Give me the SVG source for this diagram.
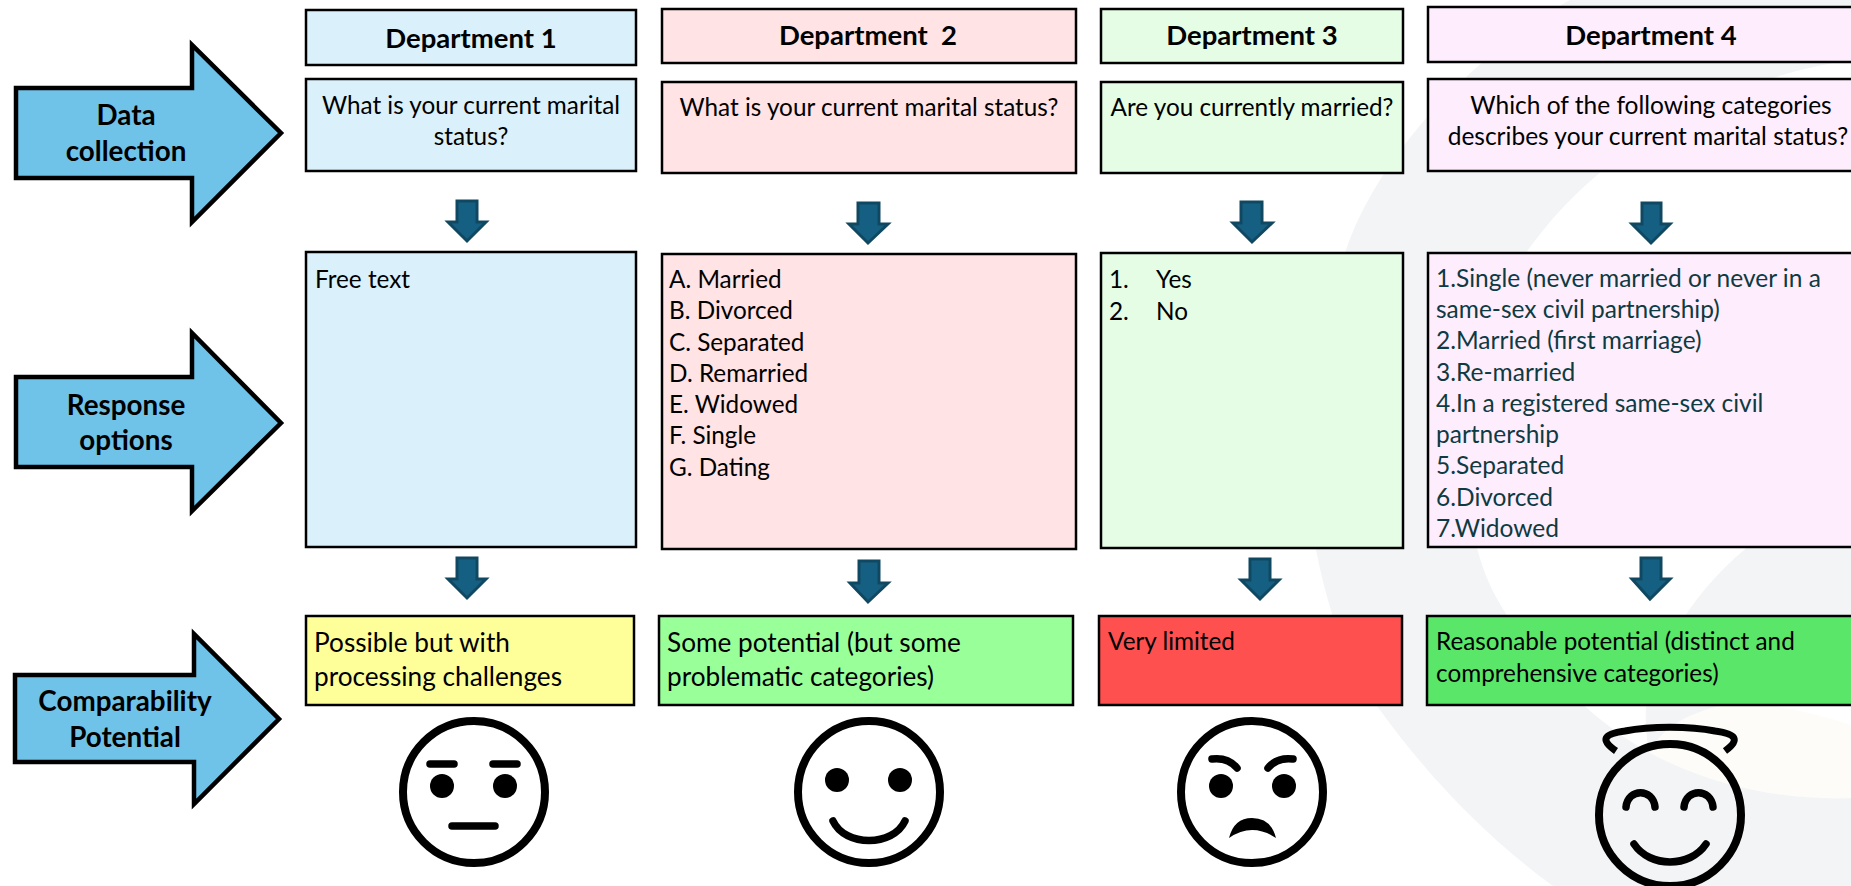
<svg xmlns="http://www.w3.org/2000/svg" width="1851" height="886" viewBox="0 0 1851 886">
<style>
text{font-family:"Lato","Liberation Sans",sans-serif;font-size:24.3px;fill:#000;white-space:pre}
.h{font-weight:700;font-size:27.5px;text-anchor:middle}
.l{font-weight:700;font-size:27.8px;text-anchor:middle}
.c{text-anchor:middle}
.r{font-size:26.2px}
.q4{font-size:24.5px;text-anchor:middle}
.o4{fill:#0e3a42;font-size:24.5px}
.box{stroke:#000;stroke-width:2.5}
.blue{fill:#daf0fb}.pink{fill:#ffe3e5}.green{fill:#e5fde5}.lilac{fill:#fdedfd}
.big{fill:#6fc3e9;stroke:#000;stroke-width:4.5;stroke-linejoin:miter}
.down{fill:#156082;stroke:#104862;stroke-width:3}
.ring{fill:none;stroke:#000;stroke-width:8}
.ln{fill:none;stroke:#000;stroke-width:7.5;stroke-linecap:round}
.dot{fill:#000}
</style>
<rect width="1851" height="886" fill="#fff"/>
<g id="background">
<path fill="#f3f4f6" d="M1570,0C1480,50 1380,150 1346,250C1316,340 1300,450 1316,550C1330,620 1350,670 1377,706C1430,780 1490,840 1553,886L1851,886L1851,798C1790,800 1720,790 1650,753C1600,725 1550,680 1507,615C1490,590 1480,565 1473,530C1465,400 1490,310 1528,250C1565,200 1590,180 1640,140C1700,100 1780,70 1851,60L1851,0Z"/>
<path fill="#f3f4f6" d="M1851,520L1770,530C1705,575 1660,640 1646,707C1645,725 1647,745 1650,753C1720,790 1790,800 1851,798Z"/>
<path fill="#fdfcf8" d="M1650,753C1660,730 1680,715 1730,703L1851,703L1851,798C1790,800 1720,790 1650,753Z"/>
<path fill="#fff" d="M1740,700C1790,708 1820,715 1851,725L1851,700Z"/>
</g>
<g id="connectors">
<path class="down" d="M457,201H477V222H486L467,241L448,222H457Z"/>
<path class="down" d="M858,203H879V224H888L868,243L849,224H858Z"/>
<path class="down" d="M1241,202H1262V223H1272L1252,242L1233,223H1241Z"/>
<path class="down" d="M1642,203H1661V224H1670L1651,243L1632,224H1642Z"/>
<path class="down" d="M457,558H477V579H486L467,598L448,579H457Z"/>
<path class="down" d="M859,561H879V583H888L868,602L850,583H859Z"/>
<path class="down" d="M1250,559H1270V580H1279L1260,599L1241,580H1250Z"/>
<path class="down" d="M1641,558H1661V579H1670L1650,599L1632,579H1641Z"/>
</g>
<g id="label-data-collection">
<path class="big" d="M16,88H192V45L281,133L192,222V178H16Z"/>
<text class="l" x="126" y="125">Data</text>
<text class="l" x="126" y="161">collection</text>
</g>
<g id="label-response-options">
<path class="big" d="M16,377H192V333L281,423L192,511V467H16Z"/>
<text class="l" x="126" y="415">Response</text>
<text class="l" x="126" y="450">options</text>
</g>
<g id="label-comparability">
<path class="big" d="M15,675H194V634L279,719L194,804V762H15Z"/>
<text class="l" x="125" y="711">Comparability</text>
<text class="l" x="125" y="747">Potential</text>
</g>
<g id="dept1">
<rect class="box blue" x="306" y="10" width="330" height="55"/>
<text class="h" x="471" y="48">Department 1</text>
<rect class="box blue" x="306" y="79" width="330" height="92"/>
<text class="c" x="471" y="114">What is your current marital</text>
<text class="c" x="471" y="145">status?</text>
<rect class="box blue" x="306" y="252" width="330" height="295"/>
<text x="315" y="288">Free text</text>
<rect class="box" fill="#ffff99" x="306" y="616" width="328" height="89"/>
<text class="r" x="314" y="652">Possible but with</text>
<text class="r" x="314" y="686">processing challenges</text>
</g>
<g id="dept2">
<rect class="box pink" x="662" y="9" width="414" height="54"/>
<text class="h" x="868" y="45">Department  2</text>
<rect class="box pink" x="662" y="82" width="414" height="91"/>
<text class="c" x="869" y="116">What is your current marital status?</text>
<rect class="box pink" x="662" y="254" width="414" height="295"/>
<text x="669" y="288">A. Married</text>
<text x="669" y="319">B. Divorced</text>
<text x="669" y="351">C. Separated</text>
<text x="669" y="382">D. Remarried</text>
<text x="669" y="413">E. Widowed</text>
<text x="669" y="444">F. Single</text>
<text x="669" y="476">G. Dating</text>
<rect class="box" fill="#99ff99" x="659" y="616" width="414" height="89"/>
<text class="r" x="667" y="652">Some potential (but some</text>
<text class="r" x="667" y="686">problematic categories)</text>
</g>
<g id="dept3">
<rect class="box green" x="1101" y="9" width="302" height="54"/>
<text class="h" x="1252" y="45">Department 3</text>
<rect class="box green" x="1101" y="82" width="302" height="91"/>
<text class="c" x="1252" y="116">Are you currently married?</text>
<rect class="box green" x="1101" y="253" width="302" height="295"/>
<text x="1109" y="288">1.</text>
<text x="1156" y="288">Yes</text>
<text x="1109" y="320">2.</text>
<text x="1156" y="320">No</text>
<rect class="box" fill="#ff5050" x="1099" y="616" width="303" height="89"/>
<text x="1108" y="650">Very limited</text>
</g>
<g id="dept4">
<rect class="box lilac" x="1428" y="7" width="440" height="55"/>
<text class="h" x="1651" y="45">Department 4</text>
<rect class="box lilac" x="1428" y="79" width="440" height="92"/>
<text class="q4" x="1651" y="114">Which of the following categories</text>
<text class="q4" x="1648" y="145">describes your current marital status?</text>
<rect class="box lilac" x="1428" y="253" width="440" height="294"/>
<text class="o4" x="1436" y="287">1.Single (never married or never in a</text>
<text class="o4" x="1436" y="318">same-sex civil partnership)</text>
<text class="o4" x="1436" y="349">2.Married (first marriage)</text>
<text class="o4" x="1436" y="381">3.Re-married</text>
<text class="o4" x="1436" y="412">4.In a registered same-sex civil</text>
<text class="o4" x="1436" y="443">partnership</text>
<text class="o4" x="1436" y="474">5.Separated</text>
<text class="o4" x="1436" y="506">6.Divorced</text>
<text class="o4" x="1436" y="537">7.Widowed</text>
<rect class="box" fill="#5ae668" x="1427" y="616" width="440" height="89"/>
<text x="1436" y="650">Reasonable potential (distinct and</text>
<text x="1436" y="682">comprehensive categories)</text>
</g>
<g id="face-neutral">
<circle class="ring" cx="474" cy="792" r="71"/>
<path class="ln" d="M430,764H454M493,764H517M452,826H495"/>
<circle class="dot" cx="442" cy="786" r="12"/><circle class="dot" cx="505" cy="786" r="12"/>
</g>
<g id="face-happy">
<circle class="ring" cx="869" cy="792" r="71"/>
<circle class="dot" cx="837" cy="780" r="12"/><circle class="dot" cx="900" cy="780" r="12"/>
<path class="ln" d="M833,821C845,847 893,847 905,821"/>
</g>
<g id="face-angry">
<circle class="ring" cx="1252" cy="792" r="71"/>
<circle class="dot" cx="1221" cy="786" r="12"/><circle class="dot" cx="1284" cy="786" r="12"/>
<path class="ln" d="M1212,759Q1228,757 1237,768M1293,759Q1277,757 1268,768"/>
<path class="dot" d="M1229,838Q1234,818 1252,818Q1271,818 1276,838Q1252,822 1229,838Z"/>
</g>
<g id="face-angel">
<circle class="ring" cx="1670" cy="815" r="71"/>
<path fill="none" stroke="#000" stroke-width="7" d="M1616,751C1600,740 1603,734 1625,731C1650,726 1690,726 1715,731C1737,734 1740,740 1725,751"/>
<path class="ln" d="M1626,807C1628,788 1653,788 1655,807M1684,807C1686,788 1711,788 1713,807M1634,844C1650,868 1690,868 1706,844"/>
</g>
</svg>
